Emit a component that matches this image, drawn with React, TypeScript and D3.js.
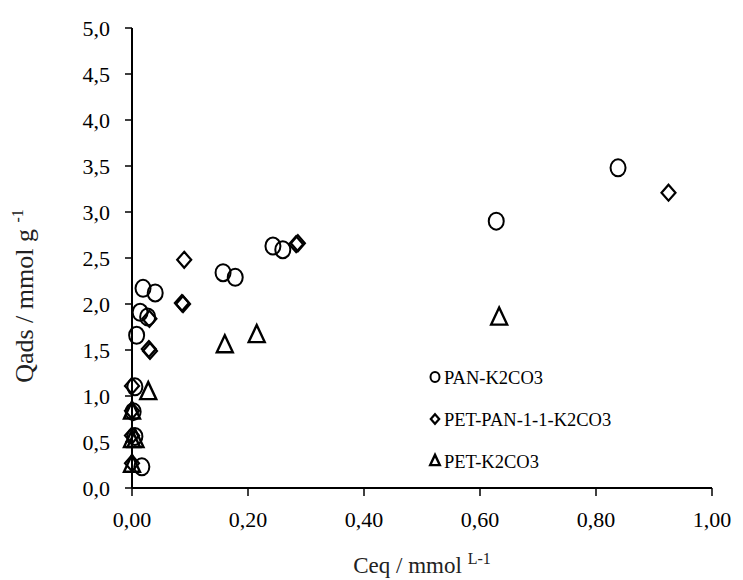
import React from "react";
import * as d3 from "d3";

const panX = [0.017, 0.005, 0.002, 0.005, 0.008, 0.014, 0.027, 0.019, 0.04, 0.157, 0.178, 0.243, 0.26, 0.628, 0.838];
const panY = [0.23, 0.56, 0.83, 1.1, 1.66, 1.91, 1.86, 2.17, 2.12, 2.34, 2.29, 2.63, 2.59, 2.9, 3.48];

const petPanX = [0.0, 0.0, 0.0, 0.0, 0.029, 0.031, 0.03, 0.086, 0.088, 0.09, 0.283, 0.286, 0.925];
const petPanY = [0.27, 0.57, 0.84, 1.11, 1.51, 1.49, 1.84, 2.01, 2.0, 2.48, 2.65, 2.66, 3.21];

const petX = [0.0, 0.0, 0.006, 0.0, 0.028, 0.16, 0.215, 0.633];
const petY = [0.25, 0.52, 0.52, 0.83, 1.04, 1.55, 1.66, 1.85];

const xTicks = [0, 0.2, 0.4, 0.6, 0.8, 1.0];
const yTicks = [0, 0.5, 1, 1.5, 2, 2.5, 3, 3.5, 4, 4.5, 5];

const seriesNames = ["PAN-K2CO3", "PET-PAN-1-1-K2CO3", "PET-K2CO3"];

const W = 743;
const H = 580;
const FONT = "'Liberation Serif', 'Times New Roman', serif";

function Marker({ kind, x, y, s = 1 }: { kind: string; x: number; y: number; s?: number }) {
  if (kind === "circle") {
    return <ellipse cx={x} cy={y} rx={7.5 * s} ry={8.5 * s} fill="none" stroke="#000" strokeWidth={2} />;
  }
  if (kind === "diamond") {
    const a = 7 * s, b = 8 * s;
    return (
      <path d={`M${x},${y - b}L${x + a},${y}L${x},${y + b}L${x - a},${y}Z`} fill="none" stroke="#000" strokeWidth={2.2} strokeLinejoin="miter" />
    );
  }
  const a = 8 * s, h = 17 * s;
  return (
    <path d={`M${x},${y - h * 0.6}L${x + a},${y + h * 0.4}L${x - a},${y + h * 0.4}Z`} fill="none" stroke="#000" strokeWidth={2.4} strokeLinejoin="miter" />
  );
}

export default function App() {
  const x = d3.scaleLinear().domain([0, 1]).range([132, 712]);
  const y = d3.scaleLinear().domain([0, 5]).range([488, 28]);
  const fmtX = (v: number) => v.toFixed(2).replace(".", ",");
  const fmtY = (v: number) => v.toFixed(1).replace(".", ",");

  const series = [
    { kind: "circle", xs: panX, ys: panY },
    { kind: "diamond", xs: petPanX, ys: petPanY },
    { kind: "triangle", xs: petX, ys: petY },
  ];

  return (
    <svg width={W} height={H} style={{ position: "absolute", left: 0, top: 0, background: "#fff" }} fontFamily={FONT}>
      <rect width={W} height={H} fill="#fff" />
      {/* axes */}
      <line x1={x(0)} x2={x(0)} y1={y(5)} y2={y(0)} stroke="#000" strokeWidth={2} />
      <line x1={x(0)} x2={x(1)} y1={y(0)} y2={y(0)} stroke="#000" strokeWidth={2} />
      {yTicks.map((t) => (
        <g key={"y" + t}>
          <line x1={x(0) - 7} x2={x(0)} y1={y(t)} y2={y(t)} stroke="#000" strokeWidth={1.5} />
          <text x={x(0) - 22} y={y(t)} dy="0.35em" textAnchor="end" fontSize={22}>
            {fmtY(t)}
          </text>
        </g>
      ))}
      {xTicks.map((t) => (
        <g key={"x" + t}>
          <line x1={x(t)} x2={x(t)} y1={y(0)} y2={y(0) + 8} stroke="#000" strokeWidth={1.5} />
          <text x={x(t)} y={y(0) + 39} textAnchor="middle" fontSize={22}>
            {fmtX(t)}
          </text>
        </g>
      ))}
      {/* axis titles */}
      <text x={422} y={573} textAnchor="middle" fontSize={23} fill="#222">
        Ceq / mmol <tspan fontSize={16} dy={-9}>L-1</tspan>
      </text>
      <text transform="translate(33,296) rotate(-90)" textAnchor="middle" fontSize={26} fill="#222">
        Qads / mmol g <tspan fontSize={16} dy={-10}>-1</tspan>
      </text>
      {/* data */}
      {series.map((s, si) =>
        s.xs.map((v, i) => <Marker key={si + "-" + i} kind={s.kind} x={x(v)} y={y(s.ys[i])} />)
      )}
      {/* legend */}
      {seriesNames.map((n, i) => (
        <g key={n}>
          <Marker kind={series[i].kind} x={435} y={377 + i * 42} s={0.6} />
          <text x={444} y={384 + i * 42} fontSize={18.5}>
            {n}
          </text>
        </g>
      ))}
    </svg>
  );
}
